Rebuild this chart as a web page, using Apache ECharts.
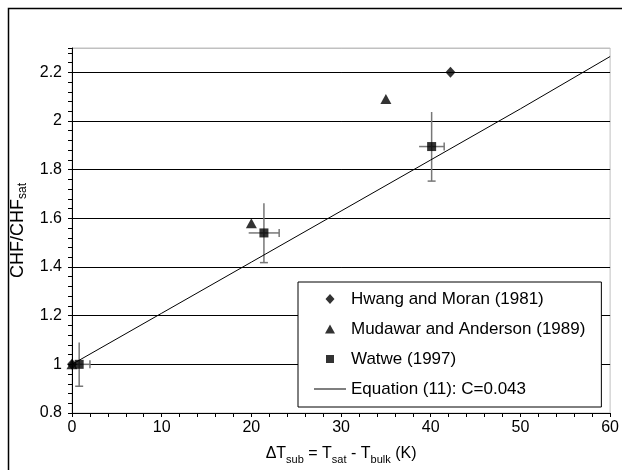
<!DOCTYPE html>
<html><head><meta charset="utf-8">
<script src="https://cdn.jsdelivr.net/npm/echarts@6/dist/echarts.min.js"></script>
<style>html,body{margin:0;padding:0;background:#fff}#c{width:622px;height:470px}</style>
</head><body><div id="c"></div>
<script>
// ---- data ----
const hwangX = [0, 42.2];
const hwangY = [1.0, 2.2];
const mudawarX = [0, 20.0, 35.0];
const mudawarY = [1.0, 1.58, 2.09];
const watweX = [0.8, 21.4, 40.1];
const watweY = [1.0, 1.54, 1.895];
const watweXErr = [1.2, 1.7, 1.4];
const watweYErr = [0.09, 0.122, 0.142];
const eqX = [0, 10, 20, 30, 40, 50, 60];
const eqY = [1.0, 1.21, 1.42, 1.63, 1.84, 2.05, 2.265];
const seriesNames = ['Hwang and Moran (1981)', 'Mudawar and Anderson (1989)', 'Watwe (1997)', 'Equation (11): C=0.043'];

// legend icon shapes drawn inside a 32x10 box (tiny corner anchors keep the box size)
const BOX = 'M0,0L0.01,0L0,0.01Z M32,10L31.99,10L32,9.99Z ';
const legendIcons = [
  'path://' + BOX + 'M11.5,5L16,0L20.5,5L16,10Z',
  'path://' + BOX + 'M11,9.5L16,0.5L21,9.5Z',
  'path://' + BOX + 'M12,1H20V9H12Z',
  'path://' + BOX + 'M0,4.5H32V5.5H0Z'
];

const zip = (a, b) => a.map((v, i) => [v, b[i]]);
const FONT = 'Liberation Sans, Arial, sans-serif';

const chart = echarts.init(document.getElementById('c'), null, {renderer: 'canvas'});
chart.setOption({
  backgroundColor: '#fff',
  animation: false,
  graphic: [{
    type: 'rect', z: 100, silent: true,
    shape: {x: 8.5, y: 8.5, width: 700, height: 700},
    style: {fill: 'none', stroke: '#000', lineWidth: 1.5}
  }],
  grid: {left: 72, right: 10, top: 48, bottom: 53, show: true, borderColor: '#c0c0c0', borderWidth: 1, backgroundColor: '#fff'},
  legend: {
    orient: 'vertical', left: 298, top: 282,
    data: seriesNames.map((n, i) => ({name: n, icon: legendIcons[i]})),
    selectedMode: false,
    itemWidth: 32, itemHeight: 10, itemGap: 10,
    padding: [7, 16, 8, 16],
    backgroundColor: '#fff', borderColor: '#000', borderWidth: 1, borderRadius: 0,
    textStyle: {fontFamily: FONT, fontSize: 17, color: '#000', lineHeight: 20}
  },
  xAxis: {
    type: 'value', min: 0, max: 60, interval: 10,
    axisLine: {show: true, lineStyle: {color: '#000', width: 1}},
    axisTick: {show: true, length: 4, lineStyle: {color: '#000'}},
    minorTick: {show: true, splitNumber: 5, length: 4, lineStyle: {color: '#000'}},
    splitLine: {show: false},
    axisLabel: {color: '#000', fontFamily: FONT, fontSize: 16, margin: 7},
    name: '{m|ΔT}{s|sub}{m| = T}{s|sat}{m| - T}{s|bulk}{m| (K)}',
    nameLocation: 'middle', nameGap: 30,
    nameTextStyle: {
      color: '#000', fontFamily: FONT, fontSize: 16,
      rich: {
        m: {fontFamily: FONT, fontSize: 16, color: '#000', lineHeight: 22, verticalAlign: 'middle'},
        s: {fontFamily: FONT, fontSize: 11, color: '#000', lineHeight: 11, verticalAlign: 'bottom'}
      }
    }
  },
  yAxis: [{
    type: 'value', min: 0.8, max: 2.3, interval: 0.2,
    axisLine: {show: true, lineStyle: {color: '#000', width: 1}},
    axisTick: {show: false},
    splitLine: {show: true, lineStyle: {color: ['#000','#000','#000','#000','#000','#000','#000','#000','#c0c0c0'], width: 1}},
    axisLabel: {color: '#000', fontFamily: FONT, fontSize: 16, margin: 10, showMaxLabel: false},
    name: '{m|CHF/CHF}{s|sat}',
    nameLocation: 'middle', nameRotate: 90, nameGap: 36,
    nameTextStyle: {
      color: '#000', fontFamily: FONT, fontSize: 18,
      rich: {
        m: {fontFamily: FONT, fontSize: 18, color: '#000', lineHeight: 22, verticalAlign: 'middle'},
        s: {fontFamily: FONT, fontSize: 12, color: '#000', lineHeight: 12, verticalAlign: 'bottom'}
      }
    }
  }, {
    type: 'value', min: 0.8, max: 2.3, interval: 0.04, position: 'left',
    axisLine: {show: false},
    axisTick: {show: true, length: 4, lineStyle: {color: '#000'}},
    axisLabel: {show: false},
    splitLine: {show: false}
  }],
  series: [{
    name: 'Watwe error', type: 'custom', z: 1, clip: true,
    data: watweX.map((x, i) => [x, watweY[i], watweXErr[i], watweYErr[i]]),
    renderItem: function (params, api) {
      const x = api.value(0), y = api.value(1), ex = api.value(2), ey = api.value(3);
      const c = api.coord([x, y]);
      const top = api.coord([x, y + ey]), bot = api.coord([x, y - ey]);
      const lft = api.coord([x - ex, y]), rgt = api.coord([x + ex, y]);
      const lx = Math.max(lft[0], params.coordSys.x);
      const style = {stroke: '#777', lineWidth: 1.5, fill: null};
      return {type: 'group', children: [
        {type: 'line', shape: {x1: c[0], y1: top[1], x2: c[0], y2: bot[1]}, style: style},
        {type: 'line', shape: {x1: c[0] - 4, y1: bot[1], x2: c[0] + 4, y2: bot[1]}, style: style},
        {type: 'line', shape: {x1: lx, y1: c[1], x2: rgt[0], y2: c[1]}, style: style},
        {type: 'line', shape: {x1: rgt[0], y1: c[1] - 4, x2: rgt[0], y2: c[1] + 4}, style: style}
      ]};
    }
  }, {
    name: seriesNames[3], type: 'line', z: 2,
    data: zip(eqX, eqY), symbol: 'none', showSymbol: false,
    lineStyle: {color: '#000', width: 1}, itemStyle: {color: '#000'}
  }, {
    name: seriesNames[0], type: 'scatter', z: 3,
    data: zip(hwangX, hwangY), symbol: 'diamond', symbolSize: [10, 11],
    itemStyle: {color: '#000'}
  }, {
    name: seriesNames[1], type: 'scatter', z: 3,
    data: zip(mudawarX, mudawarY), symbol: 'triangle', symbolSize: [11, 10],
    itemStyle: {color: '#000'}
  }, {
    name: seriesNames[2], type: 'scatter', z: 4,
    data: zip(watweX, watweY), symbol: 'rect', symbolSize: 9,
    itemStyle: {color: '#000'}
  }]
});
</script></body></html>
